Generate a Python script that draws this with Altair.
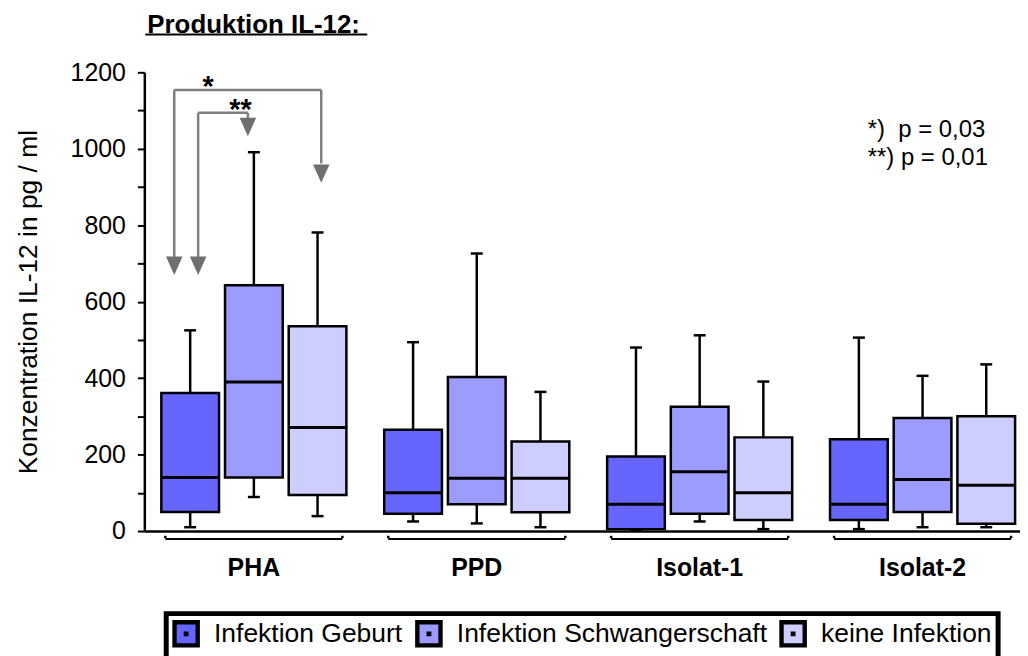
import altair as alt
import pandas as pd

FONT = "Liberation Sans"

# ---- data ----
categories = ["PHA", "PPD", "Isolat-1", "Isolat-2"]
series = ["Infektion Geburt", "Infektion Schwangerschaft", "keine Infektion"]
colors = ["#6666FF", "#9C9CFF", "#CDCDFF"]

lower_geburt = [10, 25, 3, 5]
q1_geburt = [50, 45, 5, 29]
median_geburt = [140, 100, 70, 70]
q3_geburt = [361, 265, 195, 240]
upper_geburt = [525, 494, 480, 506]

lower_schw = [89, 20, 25, 10]
q1_schw = [140, 70, 45, 50]
median_schw = [390, 138, 155, 135]
q3_schw = [643, 403, 325, 296]
upper_schw = [991, 726, 512, 406]

lower_keine = [39, 10, 5, 10]
q1_keine = [94, 49, 29, 19]
median_keine = [271, 138, 100, 120]
q3_keine = [536, 234, 245, 300]
upper_keine = [781, 364, 391, 436]

y_ticks = list(range(0, 1201, 100))
title_text = "Produktion IL-12:"
y_title = "Konzentration IL-12 in pg / ml"
p_texts = ["*)\u00a0\u00a0p = 0,03", "**) p = 0,01"]
p_values_y = [1031, 957]

# ---- layout helpers ----
GROUP_STEP = 3.5
HALF = 0.453
W, H = 880, 461

stats = {
    series[0]: (lower_geburt, q1_geburt, median_geburt, q3_geburt, upper_geburt),
    series[1]: (lower_schw, q1_schw, median_schw, q3_schw, upper_schw),
    series[2]: (lower_keine, q1_keine, median_keine, q3_keine, upper_keine),
}
rows = []
for si, s in enumerate(series):
    lo, q1, md, q3, hi = stats[s]
    for ci, c in enumerate(categories):
        pos = ci * GROUP_STEP + si
        rows.append(dict(cat=c, series=s, pos=pos, x0=pos - HALF, x1=pos + HALF,
                         lo=lo[ci], q1=q1[ci], med=md[ci], q3=q3[ci], hi=hi[ci]))
df = pd.DataFrame(rows)

cat_df = pd.DataFrame({
    "cat": categories,
    "center": [ci * GROUP_STEP + 1 for ci in range(len(categories))],
    "start": [ci * GROUP_STEP - 0.39 for ci in range(len(categories))],
    "end": [ci * GROUP_STEP + 2.39 for ci in range(len(categories))],
})
dots_df = pd.DataFrame({"x": list(cat_df["start"]) + list(cat_df["end"])})

# significance brackets (PHA group)
seg_df = pd.DataFrame({
    "xa": [-0.25, -0.25, 2.058, 0.125, 0.125, 0.906],
    "ya": [1154, 1154, 1154, 1094, 1094, 1094],
    "xb": [2.058, -0.25, 2.058, 0.906, 0.125, 0.906],
    "yb": [1154, 717, 962, 1094, 717, 1080],
})
head_df = pd.DataFrame({"x": [-0.25, 0.125, 0.906, 2.058], "y": [694, 694, 1057, 935]})
star_df = pd.DataFrame({"x": [0.28, 0.79], "y": [1137, 1077], "t": ["*", "**"]})
p_df = pd.DataFrame({"x": [10.64, 10.64], "y": p_values_y, "t": p_texts})

xscale = alt.Scale(domain=[-0.72, 13.03], nice=False, zero=False)
yscale = alt.Scale(domain=[0, 1200], nice=False)
xaxis = alt.Axis(labels=False, ticks=False, grid=False, domainColor="black",
                 domainWidth=2.5, title=None)
yaxis = alt.Axis(values=y_ticks, format="d",
                 labelExpr="datum.value % 200 == 0 ? datum.label : ''",
                 tickSize=7, tickWidth=2, tickColor="black", domainColor="black",
                 domainWidth=2.5, labelFontSize=25, labelColor="black", labelFont=FONT,
                 labelPadding=12, title=y_title, titleFontSize=26.5, titleFont=FONT,
                 titleFontWeight="normal", titleColor="black", titlePadding=28, grid=False)


def X(f):
    return alt.X(f, type="quantitative", scale=xscale, axis=xaxis)


def Y(f):
    return alt.Y(f, type="quantitative", scale=yscale, axis=yaxis)


base = alt.Chart(df)

whisk = base.mark_rule(color="black", strokeWidth=2.5).encode(
    x=X("pos"), y=Y("lo"), y2="hi")
cap_hi = base.mark_tick(color="black", orient="horizontal", size=12, thickness=2.5,
                        opacity=1).encode(x=X("pos"), y=Y("hi"))
cap_lo = base.mark_tick(color="black", orient="horizontal", size=12, thickness=2.5,
                        opacity=1).encode(x=X("pos"), y=Y("lo"))

legend_path = "M-1,-1H1V1H-1Z M-0.02,-0.02H0.02V0.02H-0.02Z"
box = base.mark_rect(stroke="black", strokeWidth=2.5, opacity=1).encode(
    x=X("x0"), x2="x1", y=Y("q1"), y2="q3",
    color=alt.Color("series:N", sort=series,
                    scale=alt.Scale(domain=series, range=colors),
                    legend=alt.Legend(title=None, orient="none", legendX=22, legendY=544,
                                      direction="horizontal", symbolType=legend_path,
                                      symbolSize=543, symbolStrokeWidth=4.4,
                                      symbolStrokeColor="black", symbolOpacity=1,
                                      labelFontSize=26.6, labelFont=FONT, labelColor="black",
                                      labelLimit=600, labelOffset=14, columnPadding=5,
                                      padding=6, strokeColor="black")))
med = base.mark_rule(color="black", strokeWidth=3).encode(
    x=X("x0"), x2="x1", y=Y("med"))

cat_base = alt.Chart(cat_df)
brackets = cat_base.mark_rule(color="black", strokeWidth=2).encode(
    x=X("start"), x2="end", y=alt.value(H + 8))
bracket_dots = alt.Chart(dots_df).mark_square(size=6, color="black", opacity=1).encode(
    x=X("x"), y=alt.value(H + 6))
cat_labels = cat_base.mark_text(font=FONT, fontSize=25, fontWeight="bold", color="black",
                                baseline="alphabetic", align="center").encode(
    x=X("center"), y=alt.value(506), text="cat")

segs = alt.Chart(seg_df).mark_rule(color="#7F7F7F", strokeWidth=2.5).encode(
    x=X("xa"), y=Y("ya"), x2="xb", y2="yb")
heads = alt.Chart(head_df).mark_point(shape="M-0.9,-1L0.9,-1L0,1Z", size=340, filled=True,
                                      color="#6F6F6F", opacity=1).encode(
    x=X("x"), y=Y("y"))
stars = alt.Chart(star_df).mark_text(font=FONT, fontSize=29, fontWeight="bold",
                                     color="black", align="center",
                                     baseline="alphabetic").encode(
    x=X("x"), y=Y("y"), text="t")
ptext = alt.Chart(p_df).mark_text(font=FONT, fontSize=24, color="black", align="left",
                                  baseline="alphabetic").encode(
    x=X("x"), y=Y("y"), text="t")

tdf = pd.DataFrame({"t": [title_text]})
title = alt.Chart(tdf).mark_text(font=FONT, fontSize=26, fontWeight="bold", color="black",
                                 align="left", baseline="alphabetic").encode(
    x=alt.value(3), y=alt.value(-40), text="t")
underline = alt.Chart(tdf).mark_rule(color="black", strokeWidth=2).encode(
    x=alt.value(1), x2=alt.value(224), y=alt.value(-38))

chart = alt.layer(
    whisk, cap_hi, cap_lo, box, med, brackets, bracket_dots, cat_labels,
    segs, heads, stars, ptext, title, underline
).properties(
    width=W, height=H,
    padding={"left": 7, "top": 2, "right": 0, "bottom": 0},
).configure_view(stroke=None).configure_legend(strokeWidth=5)

chart.save("out.html", embed_options={"renderer": "svg", "actions": False})
